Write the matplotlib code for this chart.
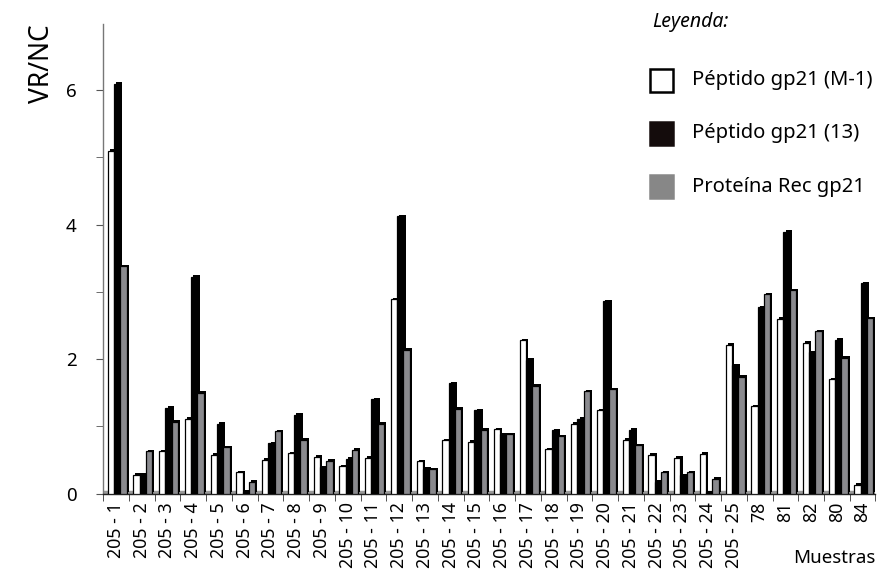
import matplotlib
matplotlib.use("Agg")
import matplotlib.pyplot as plt
import matplotlib.patheffects as pe
from matplotlib.patches import Rectangle
import numpy as np

categories = ["205 - 1", "205 - 2", "205 - 3", "205 - 4", "205 - 5", "205 - 6",
              "205 - 7", "205 - 8", "205 - 9", "205 - 10", "205 - 11", "205 - 12",
              "205 - 13", "205 - 14", "205 - 15", "205 - 16", "205 - 17", "205 - 18",
              "205 - 19", "205 - 20", "205 - 21", "205 - 22", "205 - 23", "205 - 24",
              "205 - 25", "78", "81", "82", "80", "84"]

peptido_m1 = [5.10, 0.28, 0.63, 1.11, 0.58, 0.32, 0.50, 0.60, 0.55, 0.41,
              0.53, 2.89, 0.48, 0.79, 0.77, 0.96, 2.28, 0.66, 1.04, 1.24,
              0.80, 0.58, 0.53, 0.59, 2.21, 1.30, 2.60, 2.24, 1.70, 0.13]
peptido_13 = [6.09, 0.28, 1.28, 3.22, 1.04, 0.03, 0.75, 1.17, 0.39, 0.52,
              1.40, 4.12, 0.37, 1.64, 1.24, 0.88, 1.99, 0.94, 1.11, 2.86,
              0.95, 0.18, 0.27, 0.02, 1.91, 2.77, 3.89, 2.10, 2.29, 3.13]
proteina_rec = [3.38, 0.63, 1.07, 1.50, 0.69, 0.18, 0.93, 0.80, 0.49, 0.65,
                1.04, 2.14, 0.36, 1.26, 0.95, 0.88, 1.60, 0.85, 1.52, 1.55,
                0.72, 0.32, 0.32, 0.22, 1.74, 2.96, 3.02, 2.41, 2.02, 2.61]

series_names = ["Péptido gp21 (M-1)", "Péptido gp21 (13)", "Proteína Rec gp21"]
face_colors = ["#ffffff", "#000000", "#8a8a8e"]
legend_colors = ["#ffffff", "#140c0c", "#878787"]
ytick_labels = ["0", "2", "4", "6"]

FONT = "Noto Sans"
plt.rcParams["font.family"] = [FONT, "DejaVu Sans"]

fig = plt.figure(figsize=(8.92, 5.72), dpi=100)
ax = fig.add_axes([0.1155, 0.137, 0.866, 0.821])

x = np.arange(len(categories))
width = 0.25
offsets = [-0.20, 0.05, 0.29]
shadow = [pe.SimplePatchShadow(offset=(1.5, 1.1), shadow_rgbFace="black", alpha=1.0), pe.Normal()]

# floor
ax.plot([-0.5, len(categories) - 0.5], [0.03, 0.03], color="#9a9a9a", lw=2.5, zorder=1,
        solid_capstyle="butt")

for vals, off, fc in zip([peptido_m1, peptido_13, proteina_rec], offsets, face_colors):
    bars = ax.bar(x + off, vals, width=width, color=fc, edgecolor="black",
                  linewidth=0.9, zorder=3)
    for b in bars:
        b.set_path_effects(shadow)

ax.set_xlim(-0.5, len(categories) - 0.5)
ax.set_ylim(0, 6.98)

ax.set_xticks(x)
ax.set_xticklabels(categories, rotation=90, fontsize=12.8)
ax.tick_params(axis="x", which="major", length=0, pad=6)
ax.set_xticks(np.arange(len(categories) + 1) - 0.5, minor=True)
ax.tick_params(axis="x", which="minor", length=5, direction="out", color="#333333")

ax.set_yticks([0, 2, 4, 6])
ax.set_yticklabels(ytick_labels, fontsize=13.5)
ax.set_yticks([1, 3, 5], minor=True)
ax.tick_params(axis="y", which="both", length=5, direction="out", color="#555555", pad=14)

for s in ["top", "right"]:
    ax.spines[s].set_visible(False)
ax.spines["left"].set_color("#777777")
ax.spines["left"].set_linewidth(1.0)
ax.spines["bottom"].set_color("#222222")
ax.spines["bottom"].set_linewidth(1.0)

fig.text(0.047, 0.958, "VR/NC", rotation=90, fontsize=19, ha="center", va="top")
fig.text(0.982, 0.008, "Muestras", fontsize=13.5, ha="right", va="bottom")

# legend
fig.text(0.731, 0.962, "Leyenda:", fontsize=14, style="italic", ha="left", va="center")
row_y = [80, 133, 187]
sq = 23
for yy, name, col in zip(row_y, series_names, legend_colors):
    x0 = 650 / 892
    y0 = (572 - yy - sq / 2) / 572
    rect = Rectangle((x0, y0), sq / 892, sq / 572, transform=fig.transFigure,
                     facecolor=col, edgecolor="black" if col == "#ffffff" else col,
                     linewidth=1.8)
    fig.patches.append(rect)
    fig.text(692 / 892, (572 - yy) / 572, name, fontsize=14.5, ha="left", va="center")

fig.savefig("out.png", dpi=100)
